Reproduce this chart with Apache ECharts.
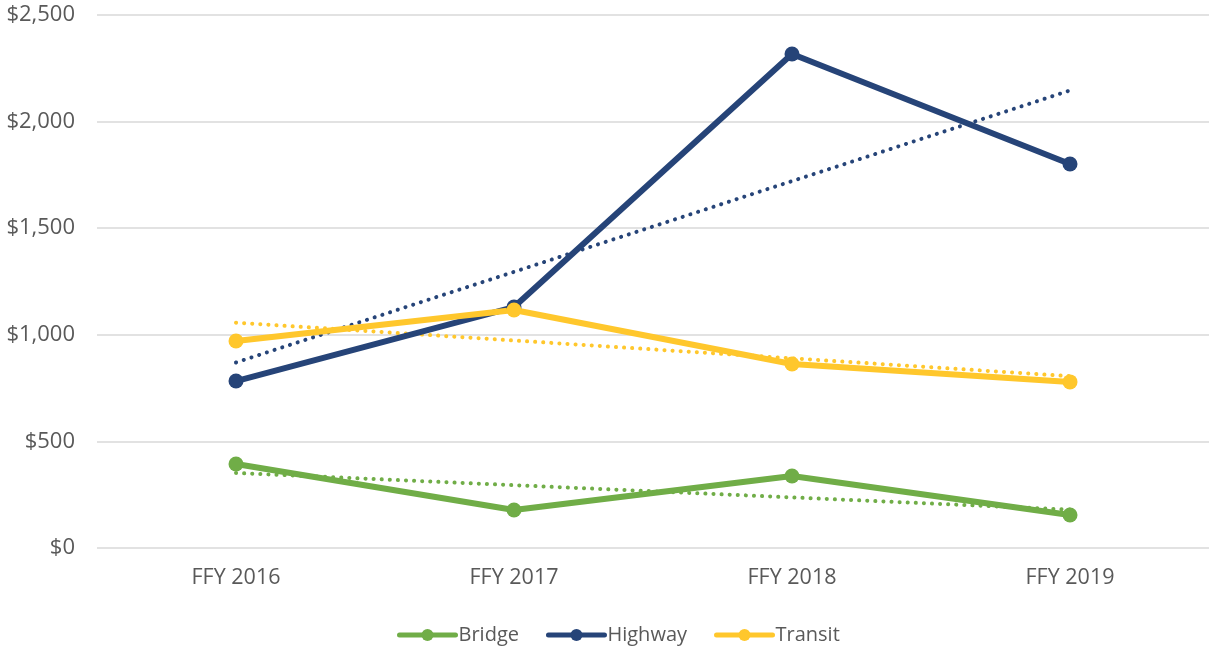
<!DOCTYPE html>
<html>
<head>
<meta charset="utf-8">
<script src="https://cdn.jsdelivr.net/npm/echarts@6/dist/echarts.min.js"></script>
<style>html,body{margin:0;padding:0;background:#fff;}#c{width:1214px;height:648px;}</style>
</head>
<body>
<div id="c"></div>
<script>
const categories = ['FFY 2016', 'FFY 2017', 'FFY 2018', 'FFY 2019'];
const bridge = [394, 178, 338, 155];
const highway = [783, 1130, 2317, 1801];
const transit = [971, 1116, 863, 779];
// linear trendline endpoints (first and last category)
const bridgeTrend = [352, null, null, 180];
const highwayTrend = [870, null, null, 2146];
const transitTrend = [1057, null, null, 806];

const C = { Bridge: '#70AD47', Highway: '#264478', Transit: '#FFC72C' };
const FONT = '"Open Sans", "Noto Sans", sans-serif';

function solid(name, data) {
  return {
    name, type: 'line', data, z: 3,
    symbol: 'circle', symbolSize: 15,
    lineStyle: { width: 6, color: C[name] },
    itemStyle: { color: C[name] },
    emphasis: { disabled: true }
  };
}
function trend(name, data) {
  return {
    name: name + ' trend', type: 'line', data, z: 2,
    connectNulls: true, symbol: 'none',
    lineStyle: { width: 4, color: C[name], type: [0.1, 8], cap: 'round' },
    emphasis: { disabled: true }
  };
}

const chart = echarts.init(document.getElementById('c'));
chart.setOption({
  animation: false,
  grid: { left: 97, right: 5, top: 15, bottom: 100, containLabel: false },
  legend: {
    data: ['Bridge', 'Highway', 'Transit'],
    top: 620, left: 392,
    itemWidth: 56, itemHeight: 15, itemGap: 27,
    lineStyle: { width: 5, cap: 'round' },
    textStyle: { fontFamily: FONT, fontSize: 20, color: '#595959', padding: [0, 0, 0, -2] }
  },
  xAxis: {
    type: 'category', data: categories, boundaryGap: true,
    axisLine: { show: false }, axisTick: { show: false },
    axisLabel: { fontFamily: FONT, fontSize: 21.5, color: '#595959', margin: 19 }
  },
  yAxis: {
    type: 'value', min: 0, max: 2500, interval: 500,
    axisLine: { show: false }, axisTick: { show: false },
    splitLine: { lineStyle: { color: '#d9d9d9', width: 1.5 } },
    axisLabel: {
      fontFamily: FONT, fontSize: 22, color: '#595959', margin: 22,
      formatter: v => '$' + v.toLocaleString('en-US')
    }
  },
  series: [
    trend('Bridge', bridgeTrend),
    trend('Highway', highwayTrend),
    trend('Transit', transitTrend),
    solid('Bridge', bridge),
    solid('Highway', highway),
    solid('Transit', transit)
  ]
});
</script>
</body>
</html>
